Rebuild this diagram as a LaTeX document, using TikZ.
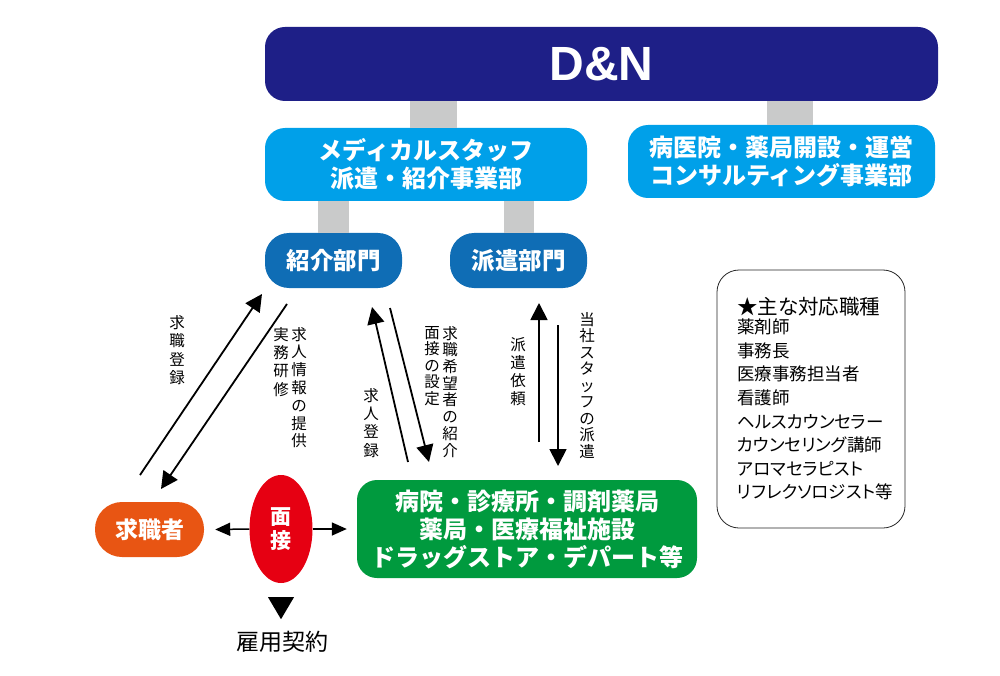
\documentclass[tikz,border=0pt]{standalone}
\usepackage{fontspec}
\setmainfont{Noto Sans CJK JP}
\newfontfamily\latinb{Liberation Sans}
\newfontfamily\jpp[RawFeature=+palt]{Noto Sans CJK JP}
\usetikzlibrary{shapes.geometric,arrows.meta,calc}
\definecolor{navy}{HTML}{1E1F87}
\definecolor{sky}{HTML}{00A0E9}
\definecolor{dblue}{HTML}{0F6DB5}
\definecolor{grn}{HTML}{009A3E}
\definecolor{org}{HTML}{E85513}
\definecolor{rd}{HTML}{E60012}
\definecolor{barc}{HTML}{C9CACA}
\begin{document}
\begin{tikzpicture}[x=1pt,y=-1pt,
  box/.style={rectangle, inner sep=0pt, text=white, align=center},
  barline/.style={draw=barc},
  vlab/.style={inner sep=0pt, align=center, anchor=north, font=\fontsize{15.5}{#1}\selectfont},
  listitem/.style={anchor=base west, inner sep=0pt, font=\jpp\fontsize{17.5}{20}\selectfont},
  arr/.style={line width=1.8pt, -{Triangle[length=17pt,width=17pt]}},
  harr/.style={line width=1.5pt, -{Triangle[length=15pt,width=13pt]}}
]
\useasboundingbox (0,0) rectangle (1000,676);

% top level
\node[box, fill=navy, rounded corners=20pt, minimum width=673pt, minimum height=74pt,
      font=\latinb\bfseries\fontsize{48}{50}\selectfont] (dn) at (601.5,64) {D\&N};

\node[box, fill=sky, rounded corners=20pt, minimum width=322pt, minimum height=73pt,
      font=\bfseries\fontsize{24}{28}\selectfont] (med) at (426,164.5)
      {メディカルスタッフ\\派遣・紹介事業部};
\node[box, fill=sky, rounded corners=20pt, minimum width=307pt, minimum height=73pt,
      font=\bfseries\fontsize{24}{28}\selectfont] (cons) at (781.5,161.5)
      {病医院・薬局開設・運営\\コンサルティング事業部};

\node[box, fill=dblue, rounded corners=24pt, minimum width=137pt, minimum height=55pt,
      font=\bfseries\fontsize{23.5}{28}\selectfont] (sk) at (333.5,260.5) {紹介部門};
\node[box, fill=dblue, rounded corners=24pt, minimum width=137pt, minimum height=55pt,
      font=\bfseries\fontsize{23.5}{28}\selectfont] (hk) at (518.5,260.5) {派遣部門};

% gray bars
\draw[barline, line width=47pt] ([xshift=7.5pt]med.north) -- ([xshift=7.5pt]med.north |- dn.south);
\draw[barline, line width=46pt] ([xshift=8.5pt]cons.north) -- ([xshift=8.5pt]cons.north |- dn.south);
\draw[barline, line width=31pt] (sk.north) -- (sk.north |- med.south);
\draw[barline, line width=30pt] (hk.north) -- (hk.north |- med.south);

% right list box
\node[draw=black!85, line width=0.8pt, rounded corners=22pt, minimum width=188pt,
      minimum height=258pt, inner sep=0pt] (jobs) at (811,399) {};
\node[anchor=base west, inner sep=0pt, font=\jpp\fontsize{20.5}{22}\selectfont] (jh) at (737,314.5) {★主な対応職種};
\foreach \t [count=\i] in {薬剤師,事務長,医療事務担当者,看護師,ヘルスカウンセラー,カウンセリング講師,アロマセラピスト,リフレクソロジスト等}
  \node[listitem] (j\i) at (737,{310+23.6*\i}) {\t};

% bottom nodes
\node[box, fill=org, rounded corners=27pt, minimum width=109pt, minimum height=55pt,
      font=\bfseries\fontsize{23}{26}\selectfont] (qs) at (149.5,529.5) {求職者};
\node[ellipse, fill=rd, minimum width=63pt, minimum height=108pt, inner sep=0pt,
      text=white, align=center, font=\bfseries\fontsize{21}{24}\selectfont] (men) at (281,529) {面\\接};
\node[box, fill=grn, rounded corners=20pt, minimum width=340pt, minimum height=98pt,
      font=\bfseries\fontsize{24}{28}\selectfont] (hosp) at (527,529)
      {病院・診療所・調剤薬局\\薬局・医療福祉施設\\ドラッグストア・デパート等};

\draw[harr] (men.west) -- ([xshift=11pt]qs.east);
\draw[harr] (men.east) -- ([xshift=-10pt]hosp.west);

\fill ($(men.south)+(-13,14)$) -- ($(men.south)+(13,14)$) -- ($(men.south)+(0,36)$) -- cycle;
\node[inner sep=0pt, font=\fontsize{23}{26}\selectfont] (kk) at (282,642) {雇用契約};

% diagonal / vertical arrows
\coordinate (a1s) at (140,475); \coordinate (a1e) at (262,294);
\coordinate (a2s) at (287,304); \coordinate (a2e) at (161,489);
\coordinate (a3s) at (408,462); \coordinate (a3e) at (372,307);
\coordinate (a4s) at (390,308); \coordinate (a4e) at (429,462);
\coordinate (a5s) at (539,442); \coordinate (a5e) at (539,303);
\coordinate (a6s) at (558,325); \coordinate (a6e) at (558,466);
\draw[arr] (a1s) -- (a1e);
\draw[arr] (a2s) -- (a2e);
\draw[arr] (a3s) -- (a3e);
\draw[arr] (a4s) -- (a4e);
\draw[arr] (a5s) -- (a5e);
\draw[arr] (a6s) -- (a6e);

% vertical labels
\node[vlab=18.5] (l1) at (177,315) {求\\職\\登\\録};
\node[vlab=18.3] (l2b) at (281,327) {実\\務\\研\\修};
\node[vlab=17.8] (l2) at (299,327) {求\\人\\情\\報\\の\\提\\供};
\node[vlab=18.3] (l3) at (371,388) {求\\人\\登\\録};
\node[vlab=16.5] (l4b) at (432,326) {面\\接\\の\\設\\定};
\node[vlab=16.7] (l4) at (450,326) {求\\職\\希\\望\\者\\の\\紹\\介};
\node[vlab=18] (l5) at (518,337) {派\\遣\\依\\頼};
\node[vlab=16.5] (l6) at (587,312) {当\\社\\ス\\タ\\ッ\\フ\\の\\派\\遣};
\end{tikzpicture}
\end{document}
